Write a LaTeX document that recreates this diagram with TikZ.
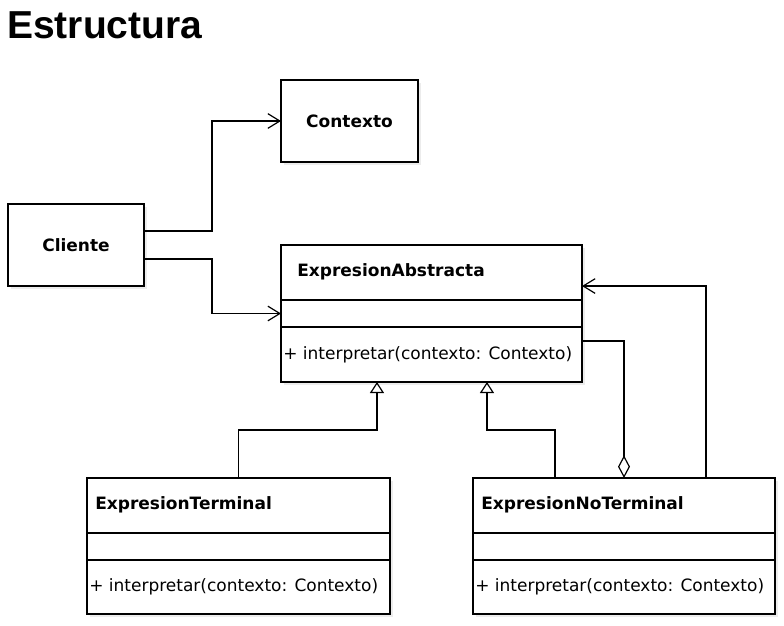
\documentclass[tikz,border=0pt]{standalone}
\usepackage{fontspec}
\setmainfont{DejaVu Sans}
\newfontfamily\titlefont{Liberation Sans}
\usetikzlibrary{positioning,arrows.meta,shadows}
\newcommand\pxu{0.75pt}

\begin{document}
\begin{tikzpicture}[x=\pxu,y=-\pxu,
  umlbox/.style={draw,fill=white,line width=0.9pt,inner sep=0pt,outer sep=0pt,
    drop shadow={shadow xshift=2.25pt,shadow yshift=-2.25pt,fill=black!15},
    font=\bfseries\fontsize{12.75pt}{15pt}\selectfont},
  umlname/.style={anchor=west,inner sep=0pt,font=\bfseries\fontsize{12.75pt}{15pt}\selectfont},
  umlop/.style={anchor=west,inner sep=0pt,font=\fontsize{12.75pt}{15pt}\selectfont},
  assoc/.style={line width=0.9pt,-{Straight Barb[length=9pt,width=11pt]}},
  inherit/.style={line width=0.9pt,-{Triangle[open,length=8.25pt,width=10.5pt,fill=white]}},
  aggr/.style={line width=0.9pt,-{Diamond[open,length=17pt,width=9pt,fill=white]}}]
\useasboundingbox (0,0) rectangle (784,625);
\node[anchor=base west,inner sep=0pt,font=\titlefont\bfseries\fontsize{29.25pt}{34pt}\selectfont]
  (titulo) at (7,38) {Estructura};
% clases simples
\node[umlbox,minimum width=137*\pxu,minimum height=82*\pxu] (contexto) at (349.5,121) {Contexto};
\node[umlbox,minimum width=136*\pxu,minimum height=82*\pxu] (cliente) at (76,245) {Cliente};
% clases con atributos y operaciones
\node[umlbox,minimum width=301*\pxu,minimum height=137*\pxu] (abstracta) at (431.5,313.5) {};
\node[umlbox,minimum width=303*\pxu,minimum height=136*\pxu] (terminal) at (238.5,546) {};
\node[umlbox,minimum width=302*\pxu,minimum height=136*\pxu] (noterminal) at (624,546) {};
\foreach \c in {abstracta,terminal,noterminal}{
  \draw[line width=0.9pt] ([yshift=-41.25pt]\c.north west) -- ([yshift=-41.25pt]\c.north east);
  \draw[line width=0.9pt] ([yshift=-61.5pt]\c.north west) -- ([yshift=-61.5pt]\c.north east);
  \node[umlop] (\c-op) at ([xshift=1.5pt,yshift=20.25pt]\c.south west) {+ interpretar(contexto: Contexto)};
}
\node[umlname] (abstracta-name) at ([xshift=12pt,yshift=-20.25pt]abstracta.north west) {ExpresionAbstracta};
\node[umlname] (terminal-name) at ([xshift=6pt,yshift=-20.25pt]terminal.north west) {ExpresionTerminal};
\node[umlname] (noterminal-name) at ([xshift=6pt,yshift=-20.25pt]noterminal.north west) {ExpresionNoTerminal};
% relaciones
\draw[assoc] ([yshift=10.5pt]cliente.east) -- ++(68,0) |- (contexto.west);
\draw[assoc] ([yshift=-10.5pt]cliente.east) -- ++(68,0) |- (abstracta.west);
\draw[inherit] (terminal.north) -- ++(0,-48) -| ([xshift=-40.9pt]abstracta.south);
\draw[inherit] ([xshift=-51.75pt]noterminal.north) -- ++(0,-48) -| ([xshift=41.6pt]abstracta.south);
\draw[aggr] ([yshift=-20.6pt]abstracta.east) -| (noterminal.north);
\draw[assoc] ([xshift=61.5pt]noterminal.north) |- ([yshift=20.6pt]abstracta.east);
\end{tikzpicture}
\end{document}
